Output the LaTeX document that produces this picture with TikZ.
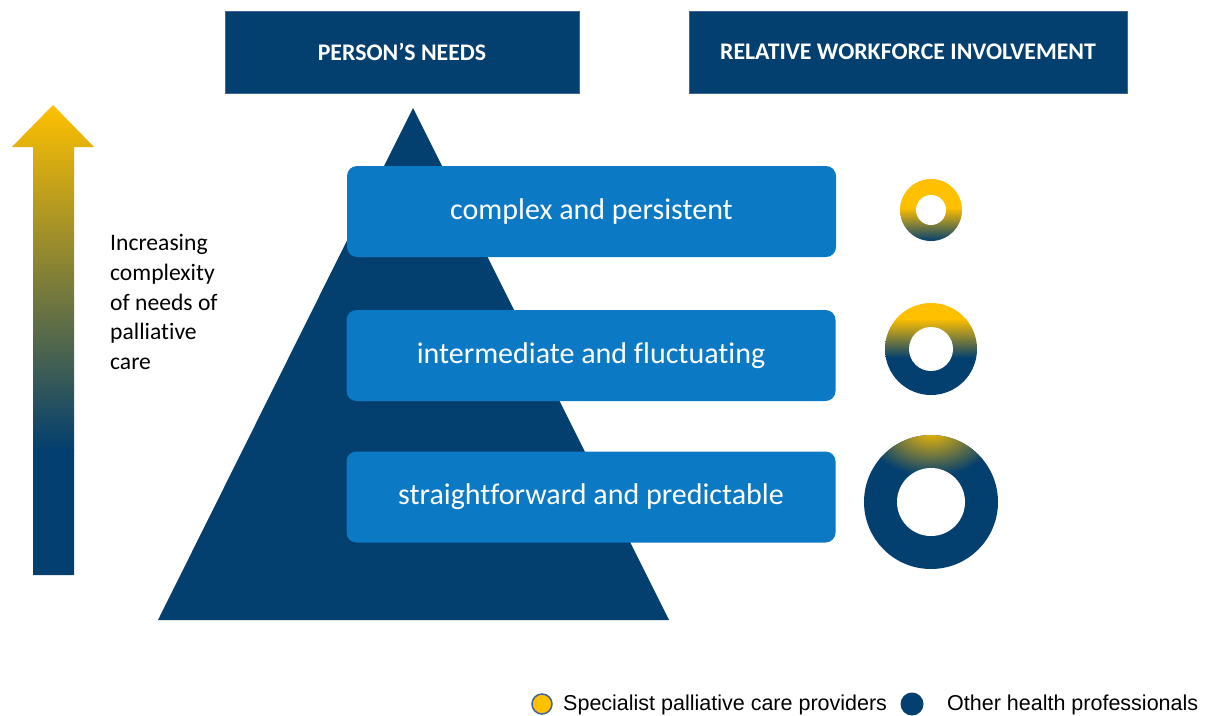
\documentclass[tikz,border=0pt]{standalone}
\usepackage{fontspec}
\setmainfont[Ligatures={NoCommon}]{Carlito}
\newfontfamily\arialf{Liberation Sans}
\definecolor{navy}{RGB}{3,63,111}
\definecolor{gold}{RGB}{255,192,0}
\definecolor{boxblue}{RGB}{12,121,197}
\definecolor{hdrline}{RGB}{66,100,150}
\tikzset{
  hdr/.style={fill=navy, draw=hdrline, line width=1pt, text=white, inner sep=0pt,
    font=\fontsize{23.8}{28}\selectfont\bfseries},
  needbox/.style={fill=boxblue, rounded corners=10pt, text=white, inner sep=0pt,
    minimum width=489pt, minimum height=91pt, font=\fontsize{30}{36}\selectfont},
  legtext/.style={anchor=west, inner sep=0pt, font=\arialf\fontsize{21.5}{25}\selectfont, text=black}
}
\begin{document}
\begin{tikzpicture}[x=1pt,y=-1pt]
\useasboundingbox[fill=white] (0,0) rectangle (1206,715);
% headers
\node[hdr, minimum width=354pt, minimum height=82pt] (h1) at (402,52) {\raisebox{-1pt}{PERSON’S NEEDS}};
\node[hdr, minimum width=438pt, minimum height=82pt] (h2) at (908,52) {\raisebox{-1pt}{RELATIVE WORKFORCE INVOLVEMENT}};
% arrow
\begin{scope}
\clip (33,575) -- (33,147) -- (12,147) -- (53,105) -- (94,147) -- (74,147) -- (74,575) -- cycle;
\shade[top color=gold, bottom color=navy] (0,105) rectangle (100,450);
\fill[navy] (0,449.5) rectangle (100,580);
\end{scope}
\node[anchor=north west, align=left, inner sep=0pt, font=\fontsize{23.6}{29.8}\selectfont] (lab) at (110,234)
  {Increasing\\complexity\\of needs of\\palliative\\care};
% pyramid
\fill[navy] (413,108) -- (669,620) -- (158,620) -- cycle;
% need boxes
\node[needbox] (n1) at (591.5,211.5) {\raisebox{-2pt}{complex and persistent}};
\node[needbox] (n2) at (591,355.5) {\raisebox{-2pt}{intermediate and fluctuating}};
\node[needbox] (n3) at (591,497) {\raisebox{-1.5pt}{straightforward and predictable}};
% ring 1
\begin{scope}
\clip (931,210) circle (31);
\fill[gold] (890,170) rectangle (975,208);
\shade[top color=gold, bottom color=navy] (890,207.5) rectangle (975,241);
\fill[navy] (890,240.5) rectangle (975,250);
\end{scope}
\fill[white] (931,210) circle (15);
% ring 2
\begin{scope}
\clip (931,349) circle (46);
\fill[gold] (880,300) rectangle (985,319);
\shade[top color=gold, bottom color=navy] (880,318.5) rectangle (985,358);
\fill[navy] (880,357.5) rectangle (985,400);
\end{scope}
\fill[white] (931,349) circle (22);
% ring 3
\begin{scope}
\clip (931,502) circle (67);
\fill[navy] (860,430) rectangle (1000,575);
\shade[inner color=gold, outer color=navy] (931,428) ellipse (68 and 48);
\end{scope}
\fill[white] (931,502) circle (34);
% legend
\fill[gold, draw=hdrline, line width=1.5pt] (542,704) circle (10);
\node[legtext] (l1) at (563,705) {Specialist palliative care providers};
\fill[navy] (912,704) circle (11.5);
\node[legtext] (l2) at (947,705) {Other health professionals};
\end{tikzpicture}
\end{document}
